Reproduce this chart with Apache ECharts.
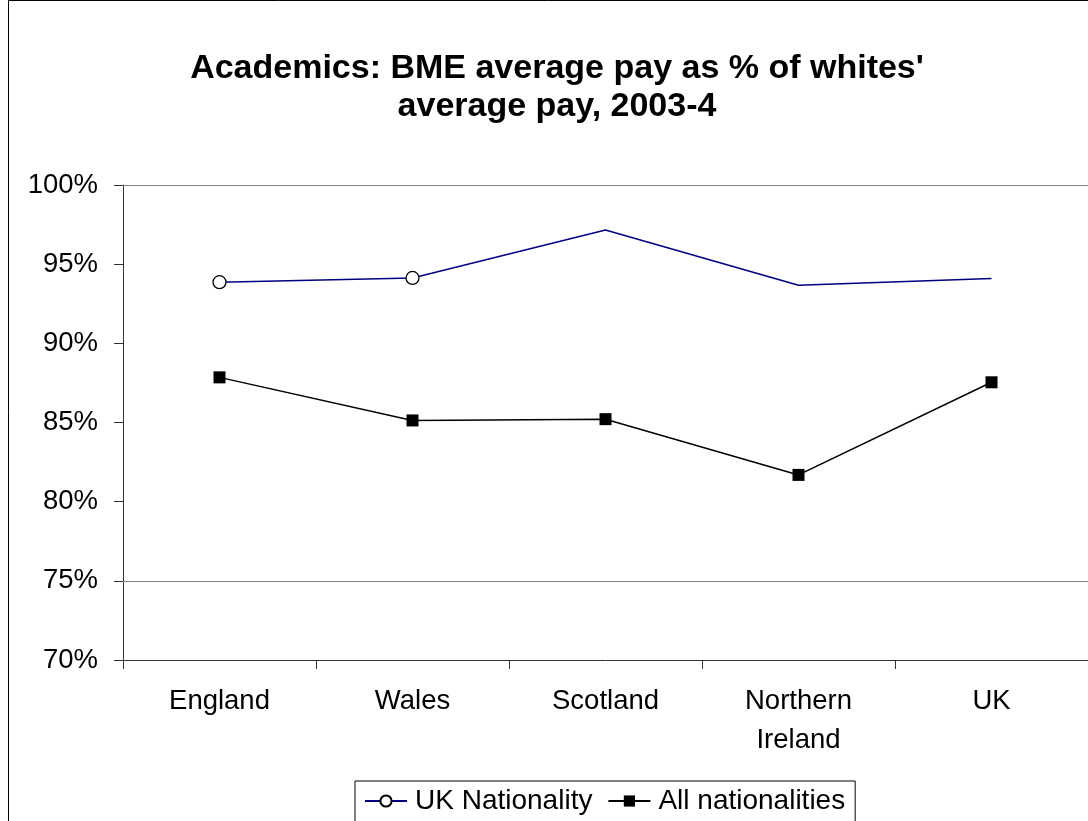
<!DOCTYPE html>
<html>
<head>
<meta charset="utf-8">
<script src="https://cdn.jsdelivr.net/npm/echarts@6/dist/echarts.min.js"></script>
<style>
html,body{margin:0;padding:0;background:#fff;}
#chart{width:1088px;height:821px;}
</style>
</head>
<body>
<div id="chart"></div>
<script>
const categories = ['England', 'Wales', 'Scotland', 'Northern\nIreland', 'UK'];
const ukNationality = [93.86, 94.13, 97.16, 93.67, 94.09];
const allNationalities = [87.85, 85.13, 85.21, 81.69, 87.54];
const ukMarkedIdx = [0, 1]; // points drawn with a marker in the original
const yTicks = { min: 70, max: 100, step: 5 };
const gridLineValues = [75, 100];

const FONT = "'Liberation Sans', Arial, Helvetica, sans-serif";
const chart = echarts.init(document.getElementById('chart'));

const ukData = ukNationality.map((v, i) =>
  ukMarkedIdx.includes(i) ? v : { value: v, symbol: 'none' });

chart.setOption({
  animation: false,
  backgroundColor: '#fff',
  graphic: [{
    type: 'rect', shape: { x: 8.5, y: 0.5, width: 1200, height: 1000 },
    style: { fill: 'none', stroke: '#000', lineWidth: 1 }, silent: true, z: -1
  }],
  title: {
    text: "Academics: BME average pay as % of whites'\naverage pay, 2003-4",
    left: 552, top: 45, textAlign: 'center',
    textStyle: { fontFamily: FONT, fontSize: 34, fontWeight: 'bold', color: '#000', lineHeight: 38 }
  },
  legend: {
    left: 355, top: 781,
    borderColor: '#000', borderWidth: 1,
    padding: [6, 10, 8, 9],
    itemGap: 15, itemWidth: 42, itemHeight: 14,
    textStyle: { fontFamily: FONT, fontSize: 28, color: '#000', padding: [0, 0, 0, 3] },
    data: ['UK Nationality', 'All nationalities']
  },
  grid: { left: 123, top: 185, width: 968, height: 475 },
  xAxis: {
    type: 'category', data: categories, boundaryGap: true,
    axisLine: { lineStyle: { color: '#333', width: 1 } },
    axisTick: { show: true, length: 9, lineStyle: { color: '#333' } },
    axisLabel: { fontFamily: FONT, fontSize: 27.5, color: '#000', margin: 22, lineHeight: 39 },
    splitLine: { show: false }
  },
  yAxis: {
    type: 'value', min: yTicks.min, max: yTicks.max, interval: yTicks.step,
    axisLine: { show: true, lineStyle: { color: '#333', width: 1 } },
    axisTick: { show: true, inside: false, length: 9, lineStyle: { color: '#333' } },
    axisLabel: { fontFamily: FONT, fontSize: 27.5, color: '#000', margin: 25, formatter: '{value}%' },
    splitLine: { show: false }
  },
  series: [
    {
      name: 'UK Nationality', type: 'line', data: ukData,
      symbol: 'circle', symbolSize: 13,
      lineStyle: { color: '#000080', width: 1.5 },
      itemStyle: { color: '#fff', borderColor: '#000', borderWidth: 1.3 },
      z: 3
    },
    {
      name: 'All nationalities', type: 'line', data: allNationalities,
      symbol: 'rect', symbolSize: 12,
      lineStyle: { color: '#000', width: 1.5 },
      itemStyle: { color: '#000', borderColor: '#000', borderWidth: 0 },
      markLine: {
        silent: true, symbol: 'none', label: { show: false },
        lineStyle: { color: '#808080', type: 'solid', width: 1.2 },
        data: gridLineValues.map(v => ({ yAxis: v }))
      },
      z: 3
    }
  ]
});
</script>
</body>
</html>
